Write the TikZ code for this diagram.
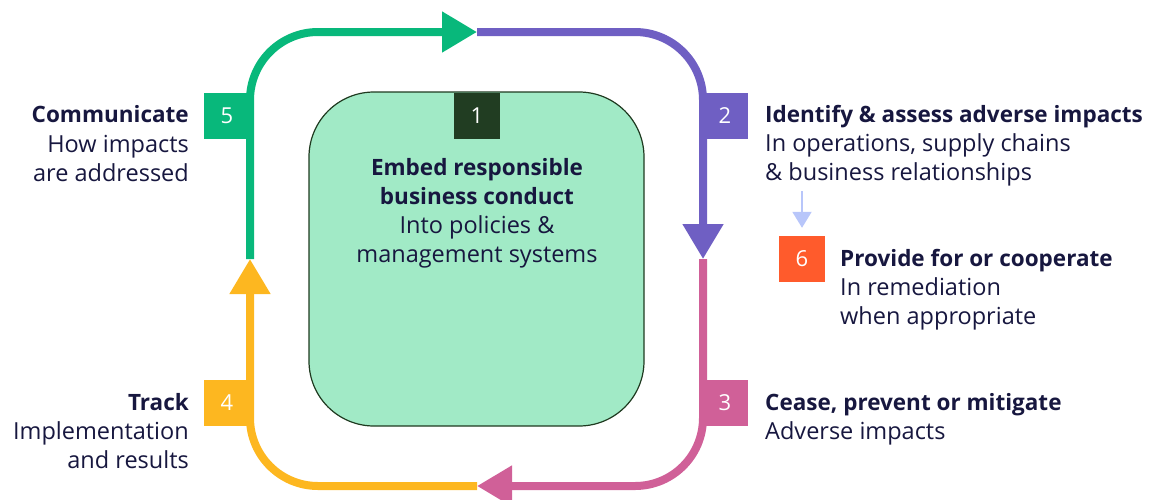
\documentclass[tikz,border=0pt]{standalone}
\usepackage{fontspec}
\setmainfont{Open Sans}
\usetikzlibrary{arrows.meta}
\definecolor{cgreen}{HTML}{08B87B}
\definecolor{cpurple}{HTML}{6F5FC3}
\definecolor{cpink}{HTML}{D06098}
\definecolor{cyellow}{HTML}{FDB720}
\definecolor{corange}{HTML}{FF5B2C}
\definecolor{clight}{HTML}{B8C6FA}
\definecolor{cnavy}{HTML}{17173F}
\definecolor{cboxfill}{HTML}{A1EAC6}
\definecolor{cboxdraw}{HTML}{1F3A20}
\definecolor{cdark}{HTML}{213D22}
\tikzset{
  loopline/.style={line width=8pt, rounded corners=68pt, -{Triangle[length=35pt,width=39pt]}},
  badge/.style={fill=#1, minimum size=46pt, inner sep=0pt, text=white, font=\fontsize{22}{22}\selectfont},
  head/.style={font=\fontsize{22.5}{29}\selectfont\bfseries, text=cnavy, inner sep=0pt},
  body/.style={font=\fontsize{23.5}{29}\selectfont, text=cnavy, inner sep=0pt},
}
\begin{document}
\begin{tikzpicture}[x=1pt,y=-1pt]
\useasboundingbox (0,0) rectangle (1153,499);
% loop anchor points
\coordinate (tl) at (250,259);
\coordinate (tt) at (477,32);
\coordinate (tr) at (703,259);
\coordinate (tb) at (477,486);
% central box
\coordinate (boxnw) at (309,92);
\coordinate (boxse) at (644,426);
\draw[draw=cboxdraw, line width=1.2pt, fill=cboxfill, rounded corners=65pt] (boxnw) rectangle (boxse);
% loop
\draw[loopline, draw=cgreen] (tl) |- (tt);
\draw[loopline, draw=cpurple] (tt) -| (tr);
\draw[loopline, draw=cpink] (tr) |- (tb);
\draw[loopline, draw=cyellow] (tb) -| (tl);
% badges
\node[badge=cgreen] (b5) at (227,115.5) {5};
\node[badge=cdark] (b1) at (477,115.5) {1};
\node[badge=cpurple] (b2) at (725,115.5) {2};
\node[badge=cpink] (b3) at (725,403) {3};
\node[badge=cyellow] (b4) at (227,403) {4};
\node[badge=corange] (b6) at (802,259) {6};
% small arrow
\coordinate (sa) at (802,191);
\draw[draw=clight, line width=2pt, -{Triangle[length=16pt,width=19pt]}] (sa) -- ([yshift=8pt]b6.north);
% texts
\node[head, anchor=base east] (t5a) at (189,122) {Communicate};
\node[body, anchor=base east] (t5b) at (189,152) {How impacts};
\node[body, anchor=base east] (t5c) at (189,181) {are addressed};
\node[head, anchor=base east] (t4a) at (189,410) {Track};
\node[body, anchor=base east] (t4b) at (189,439) {Implementation};
\node[body, anchor=base east] (t4c) at (189,468) {and results};
\node[head, anchor=base west] (t2a) at (765,122) {Identify \& assess adverse impacts};
\node[body, anchor=base west] (t2b) at (765,151) {In operations, supply chains};
\node[body, anchor=base west] (t2c) at (765,180) {\& business relationships};
\node[head, anchor=base west] (t6a) at (840,266) {Provide for or cooperate};
\node[body, anchor=base west] (t6b) at (840,295) {In remediation};
\node[body, anchor=base west] (t6c) at (840,324) {when appropriate};
\node[head, anchor=base west] (t3a) at (765,410) {Cease, prevent or mitigate};
\node[body, anchor=base west] (t3b) at (765,439) {Adverse impacts};
\node[head, anchor=base] (t1a) at (477,175) {Embed responsible};
\node[head, anchor=base] (t1b) at (477,204) {business conduct};
\node[body, anchor=base] (t1c) at (477,233) {Into policies \&};
\node[body, anchor=base] (t1d) at (477,262) {management systems};
\end{tikzpicture}
\end{document}
